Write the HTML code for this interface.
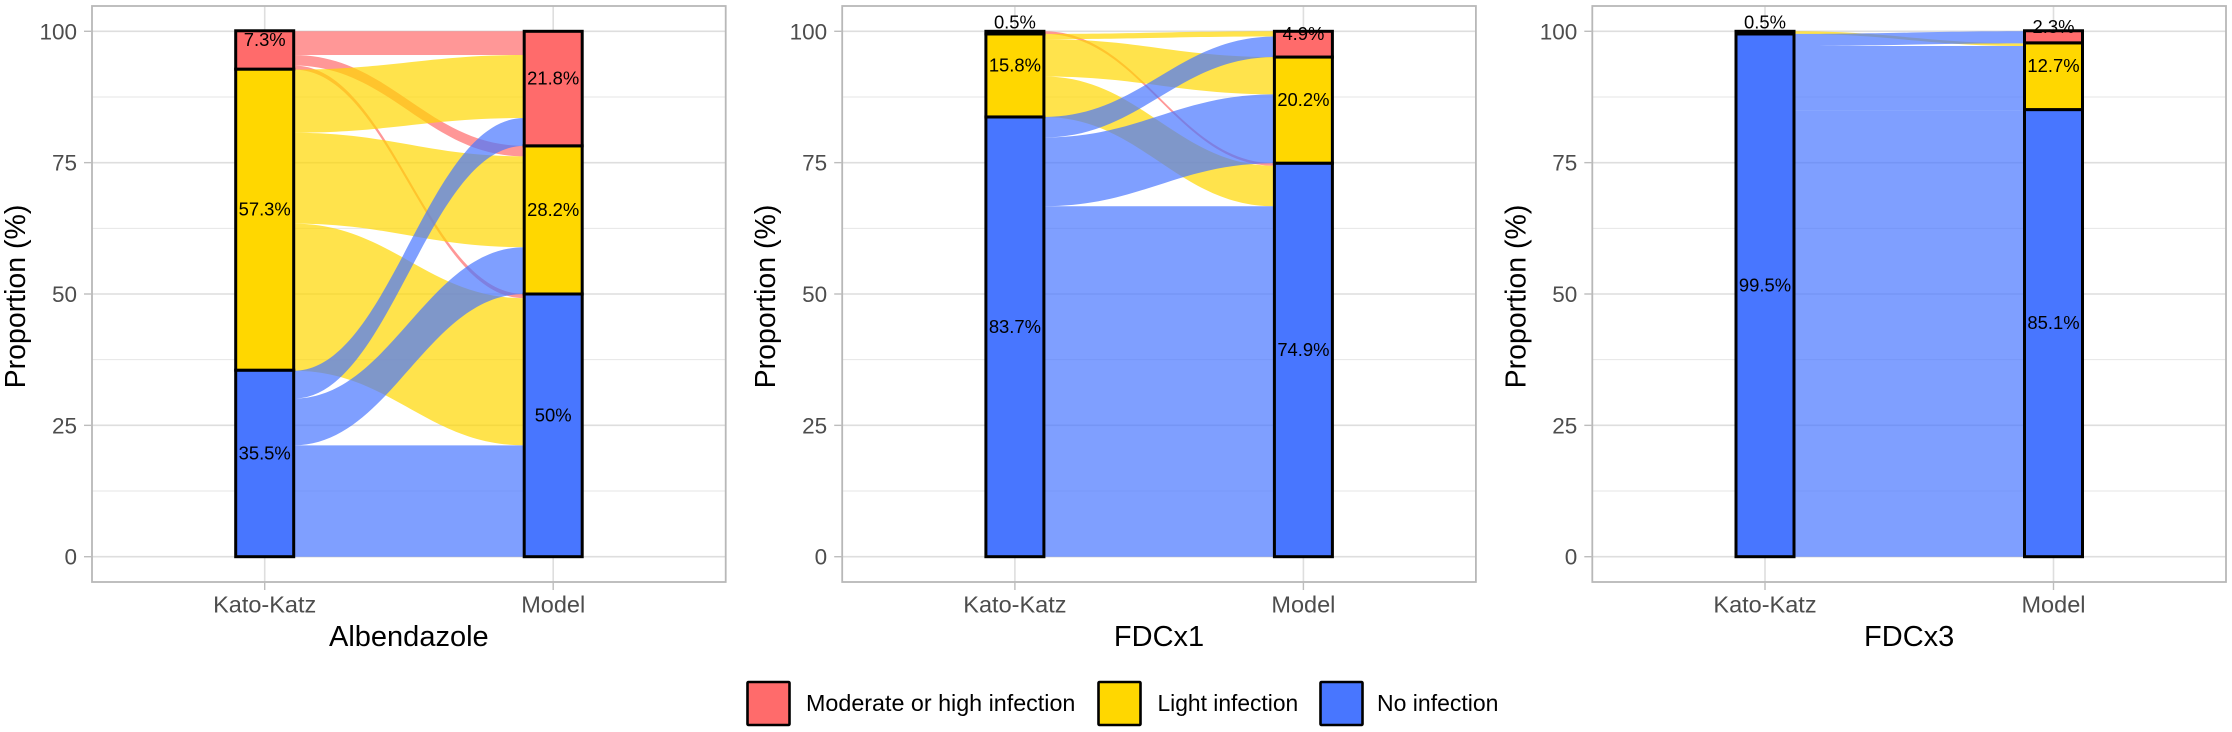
<!DOCTYPE html>
<html lang="en">
<head>
<meta charset="utf-8">
<title>Kato-Katz versus model infection proportions</title>
<style>
html,body{margin:0;padding:0;background:#fff;width:2232px;height:732px;overflow:hidden}
svg{display:block;font-family:"Liberation Sans",Arial,sans-serif}
</style>
</head>
<body>
<svg id="chart" xmlns="http://www.w3.org/2000/svg" width="2232" height="732" viewBox="0 0 2232 732"></svg>
<script>
// ---- chart data ----
const categories = ['Moderate or high infection', 'Light infection', 'No infection'];
const axisLabels = ['Kato-Katz', 'Model'];
const yTicks = [0, 25, 50, 75, 100];
const yMinorTicks = [12.5, 37.5, 62.5, 87.5];
const treatments = ['Albendazole', 'FDCx1', 'FDCx3'];

// Stratum percentages, ordered [moderate/high, light, none]
const albendazoleKatoKatz = [7.3, 57.3, 35.5];
const albendazoleModel = [21.8, 28.2, 50];
const fdc1KatoKatz = [0.5, 15.8, 83.7];
const fdc1Model = [4.9, 20.2, 74.9];
const fdc3KatoKatz = [0, 0.5, 99.5];
const fdc3Model = [2.3, 12.7, 85.1];

// Flow widths: rows = Kato-Katz stratum, columns = Model stratum
const albendazoleFlows = [[4.5, 2.0, 0.8], [12, 17.3, 28.0], [5.3, 8.9, 21.2]];
const fdc1Flows = [[0, 0, 0.5], [1, 7.1, 7.7], [3.9, 13.1, 66.7]];
const fdc3Flows = [[0, 0, 0], [0, 0.5, 0], [2.3, 12.2, 85]];

const katoKatzSeries = [albendazoleKatoKatz, fdc1KatoKatz, fdc3KatoKatz];
const modelSeries = [albendazoleModel, fdc1Model, fdc3Model];
const flowSeries = [albendazoleFlows, fdc1Flows, fdc3Flows];

// ---- layout ----
const fills = ['#FF6B6B', '#FFD700', '#4876FF'];
const svg = document.getElementById('chart');
const NS = 'http://www.w3.org/2000/svg';
const panelTop = 6, panelBottom = 582, panelWidth = 633.7;
const panelLefts = [92, 842.2, 1592.3];
const slugs = ['albendazole', 'fdcx1', 'fdcx3'];
const catSlugs = ['moderate-high', 'light', 'none'];

function yScale(v) { return 556.7 - v * 5.254; }
function xScale(panel, i) { return panelLefts[panel] + 172.7 + i * 288.5; }
const halfBar = 29;

function make(tag, attrs, parent, text) {
  const el = document.createElementNS(NS, tag);
  for (const k in attrs) el.setAttribute(k, attrs[k]);
  if (text !== undefined) el.textContent = text;
  parent.appendChild(el);
  return el;
}

function flowPath(x0, x1, a0, a1, b0, b1) {
  const k = 0.42 * (x1 - x0);
  return 'M' + x0 + ' ' + a0 +
    'C' + (x0 + k) + ' ' + a0 + ' ' + (x1 - k) + ' ' + a1 + ' ' + x1 + ' ' + a1 +
    'L' + x1 + ' ' + b1 +
    'C' + (x1 - k) + ' ' + b1 + ' ' + (x0 + k) + ' ' + b0 + ' ' + x0 + ' ' + b0 + 'Z';
}

function sum(a) { return a.reduce(function (s, v) { return s + v; }, 0); }

treatments.forEach(function (name, p) {
  const left = panelLefts[p], right = left + panelWidth;
  const g = make('g', {}, svg);
  
  

  // minor + major gridlines
  yMinorTicks.forEach(function (t) {
    const l = make('line', {x1: left, x2: right, y1: yScale(t), y2: yScale(t), stroke: '#e6e6e6', 'stroke-width': 1}, g);
    
    
  });
  yTicks.forEach(function (t) {
    const l = make('line', {x1: left, x2: right, y1: yScale(t), y2: yScale(t), stroke: '#dedede', 'stroke-width': 1.6}, g);
    
    
  });
  axisLabels.forEach(function (lab, i) {
    const l = make('line', {x1: xScale(p, i), x2: xScale(p, i), y1: panelTop, y2: panelBottom, stroke: '#dedede', 'stroke-width': 1.6}, g);
    
    
  });

  // flows: red first, then yellow, then blue on top
  const kk = katoKatzSeries[p], md = modelSeries[p], flows = flowSeries[p];
  const x0 = xScale(p, 0) + halfBar, x1 = xScale(p, 1) - halfBar;
  const colOffset = [0, 0, 0];
  let rowTop = 100;
  flows.forEach(function (row, r) {
    row.forEach(function (w, c) {
      let colTop = 100;
      for (let k = 0; k < c; k++) colTop -= sum(flows.map(function (f) { return f[k]; }));
      const a0 = rowTop, a1 = colTop - colOffset[c];
      if (w > 0) {
        const path = make('path', {
          d: flowPath(x0, x1, yScale(a0), yScale(a1), yScale(a0 - w), yScale(a1 - w)),
          fill: fills[r], 'fill-opacity': 0.7, stroke: 'none'
        }, g);
        
        
      }
      rowTop -= w;
      colOffset[c] += w;
    });
  });

  // strata, stacked upward from zero
  [kk, md].forEach(function (vals, i) {
    let base = 0;
    for (let c = vals.length - 1; c >= 0; c--) {
      const v = vals[c];
      if (v > 0) {
        const rect = make('rect', {
          x: xScale(p, i) - halfBar, width: halfBar * 2,
          y: yScale(base + v), height: yScale(base) - yScale(base + v),
          fill: fills[c], stroke: '#000', 'stroke-width': 3
        }, g);
        
        
      }
      base += v;
    }
  });
  [kk, md].forEach(function (vals, i) {
    let base = 0;
    for (let c = vals.length - 1; c >= 0; c--) {
      const v = vals[c];
      if (v > 0) {
        const t = make('text', {
          x: xScale(p, i), y: yScale(base + v / 2) - 4, 'font-size': 18.4, 'text-anchor': 'middle', fill: '#000'
        }, g, v + '%');
        
        
      }
      base += v;
    }
  });

  // panel border
  const border = make('rect', {x: left, y: panelTop, width: panelWidth, height: panelBottom - panelTop, fill: 'none', stroke: '#b8b8b8', 'stroke-width': 1.8}, g);
  
  

  // y axis
  yTicks.forEach(function (t) {
    const tick = make('line', {x1: left - 8, x2: left, y1: yScale(t), y2: yScale(t), stroke: '#bdbdbd', 'stroke-width': 1.4}, g);
    
    
    const lab = make('text', {x: left - 15, y: yScale(t) + 8, 'font-size': 22.5, 'text-anchor': 'end', fill: '#4d4d4d'}, g, t);
    
    
  });
  const cy = (panelTop + panelBottom) / 2 + 2.5, tx = left - 67;
  const yTitle = make('text', {x: tx, y: cy, 'font-size': 28.5, 'text-anchor': 'middle', fill: '#000', transform: 'rotate(-90 ' + tx + ' ' + cy + ')'}, g, 'Proportion (%)');
  
  

  // x axis
  axisLabels.forEach(function (lab, i) {
    const tick = make('line', {x1: xScale(p, i), x2: xScale(p, i), y1: panelBottom, y2: panelBottom + 8, stroke: '#bdbdbd', 'stroke-width': 1.4}, g);
    
    
    const t = make('text', {x: xScale(p, i), y: 612.7, 'font-size': 23.5, 'text-anchor': 'middle', fill: '#4d4d4d'}, g, lab);
    
    
  });
  const xTitle = make('text', {x: left + panelWidth / 2, y: 646, 'font-size': 29, 'text-anchor': 'middle', fill: '#000'}, g, name);
  
  
});

// legend
const legend = make('g', {}, svg);


const legendKeyX = [747.5, 1098.5, 1320.5];
const legendTextX = [806, 1157.5, 1377];
const legendFontSizes = [23.3, 22.8, 23];
categories.forEach(function (c, i) {
  const key = make('rect', {x: legendKeyX[i], y: 682, width: 42, height: 43, fill: fills[i], stroke: '#000', 'stroke-width': 2.6, rx: 1}, legend);
  
  
  const t = make('text', {x: legendTextX[i], y: 711, 'font-size': legendFontSizes[i], fill: '#000'}, legend, c);
  
  
});
</script>
</body>
</html>
